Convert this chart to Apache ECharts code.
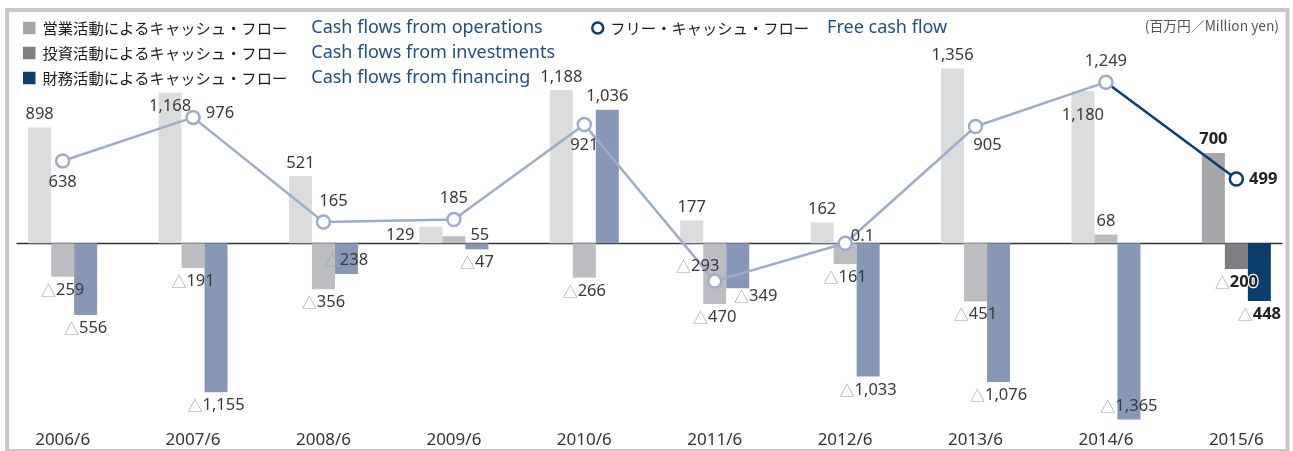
<!DOCTYPE html>
<html>
<head>
<meta charset="utf-8">
<script src="https://cdn.jsdelivr.net/npm/echarts@6/dist/echarts.min.js"></script>
<style>
  html, body { margin: 0; padding: 0; background: #fff; }
  #chart { width: 1293px; height: 451px; }
</style>
</head>
<body>
<div id="chart"></div>
<script>
// fiscal years (June year-end)
const years = ['2006/6', '2007/6', '2008/6', '2009/6', '2010/6', '2011/6', '2012/6', '2013/6', '2014/6', '2015/6'];

// million yen, △ = negative
const opsValues = [898, 1168, 521, 129, 1188, 177, 162, 1356, 1180, 700];
const invValues = [-259, -191, -356, 55, -266, -470, -161, -451, 68, -200];
const finValues = [-556, -1155, -238, -47, 1036, -349, -1033, -1076, -1365, -448];
const fcfValues = [638, 976, 165, 185, 921, -293, 0.1, 905, 1249, 499];

const seriesNames = ['営業活動によるキャッシュ・フロー', '投資活動によるキャッシュ・フロー', '財務活動によるキャッシュ・フロー', 'フリー・キャッシュ・フロー'];
const seriesNamesEn = ['Cash flows from operations', 'Cash flows from investments', 'Cash flows from financing', 'Free cash flow'];

const lightColors = ['#dbdcde', '#bcbdc1', '#8798b6', '#9dadc9'];
const latestColors = ['#a6a7ab', '#7e7f83', '#0b3e6c', '#0b3e6c'];

// label placement tweaks (by year index)
const opsLabelTweaks = { 1: { position: 'insideTop' }, 3: { position: 'left' }, 8: { position: 'insideTop', offset: [0, 11] } };
const invLabelTweaks = { 3: { position: 'right', offset: [0, -4] } };
const finLabelTweaks = { 2: { position: 'insideBottom' }, 5: { offset: [18, -5] }, 8: { position: 'insideBottom' } };
const fcfLabelTweaks = [
  { position: 'bottom' }, { position: 'right', offset: [0, -4] }, { position: 'top', offset: [10, 0] },
  { position: 'top' }, { position: 'bottom' }, { position: 'top', offset: [-17, 6] },
  { position: 'right', offset: [-7, -7] }, { position: 'bottom', offset: [12, -2] },
  { position: 'top' }, { position: 'right' }
];

const lastIdx = years.length - 1;

let labelText = (v, bold, halo) => {
  let s = Math.abs(v).toLocaleString('en-US');
  let key = halo ? 'nw' : (bold ? 'nb' : 'n');
  return (v < 0 ? '{t|△}' : '') + '{' + key + '|' + s + '}';
};

let richStyles = {
  t: { color: '#a0a0a0', fontSize: 15, fontFamily: 'Noto Sans CJK JP' },
  n: { color: '#3a3a3a', fontSize: 16.5 },
  nb: { color: '#222', fontSize: 16.5, fontWeight: 'bold' },
  nw: { color: '#222', fontSize: 16.5, fontWeight: 'bold', textBorderColor: '#fff', textBorderWidth: 2.5 }
};

let barSeries = (idx, values, tweaks) => ({
  name: seriesNames[idx],
  type: 'bar',
  barWidth: 23,
  barGap: 0,
  itemStyle: { color: latestColors[idx] },
  label: {
    show: true,
    distance: 5,
    formatter: p => labelText(p.value[1], p.dataIndex === lastIdx, idx === 1 && p.dataIndex === lastIdx),
    rich: richStyles
  },
  data: values.map((v, i) => ({
    value: [i, v],
    itemStyle: i === lastIdx ? undefined : { color: lightColors[idx] },
    label: Object.assign({ position: v >= 0 ? 'top' : 'bottom' }, tweaks[i] || {})
  }))
});

let lineBase = (color, z) => ({
  name: seriesNames[3],
  type: 'line',
  z: z,
  symbol: 'circle',
  symbolSize: 13,
  itemStyle: { color: '#fff', borderColor: color, borderWidth: 2.5 },
  lineStyle: { color: color, width: 2.5 },
  emphasis: { disabled: true }
});

let fcfMain = Object.assign(lineBase(lightColors[3], 4), {
  label: { show: true, distance: 5, formatter: p => labelText(p.value[1], false, false), rich: richStyles },
  data: fcfValues.slice(0, lastIdx).map((v, i) => ({ value: [i, v], label: fcfLabelTweaks[i] }))
});

let fcfLast = Object.assign(lineBase(latestColors[3], 3), {
  label: { show: true, distance: 5, formatter: p => labelText(p.value[1], true, false), rich: richStyles },
  data: [
    { value: [lastIdx - 1, fcfValues[lastIdx - 1]], symbolSize: 0, label: { show: false } },
    { value: [lastIdx, fcfValues[lastIdx]], label: fcfLabelTweaks[lastIdx] }
  ]
});

let legendText = (name) => '{jp|' + name + '}{en|' + seriesNamesEn[seriesNames.indexOf(name)] + '}';
let legendRich = (gap) => ({
  lineHeight: 20,
  rich: {
    jp: { fontSize: 15.3, color: '#1a1a1a', fontFamily: 'Noto Sans CJK JP', lineHeight: 20, padding: [0, 0, 0, 2] },
    en: { fontSize: 18, color: '#1f4e80', fontFamily: 'Noto Sans', lineHeight: 20, padding: [0, 0, 0, gap] }
  }
});

let options = {
  animation: false,
  textStyle: { fontFamily: '"Noto Sans", "Noto Sans CJK JP", sans-serif' },
  title: {
    text: '(百万円／Million yen)',
    right: 14,
    top: 19,
    padding: 0,
    textStyle: { fontSize: 13.8, fontWeight: 'normal', color: '#555', fontFamily: '"Noto Sans CJK JP"' }
  },
  legend: [
    {
      data: seriesNames.slice(0, 3),
      orient: 'vertical',
      left: 23,
      top: 18,
      padding: 0,
      icon: 'rect',
      itemWidth: 12.5,
      itemHeight: 12.5,
      itemGap: 5,
      selectedMode: false,
      formatter: legendText,
      textStyle: legendRich(24)
    },
    {
      data: [{ name: seriesNames[3], icon: 'circle', itemStyle: { color: '#fff', borderColor: latestColors[3], borderWidth: 2.5 } }],
      left: 591,
      top: 18,
      padding: 0,
      itemWidth: 11,
      itemHeight: 11,
      selectedMode: false,
      formatter: legendText,
      textStyle: legendRich(18)
    }
  ],
  grid: { left: 17, right: 11, top: 24, bottom: 27.1 },
  xAxis: [
    {
      type: 'value',
      min: -0.35,
      max: 9.35,
      axisLine: { show: true, onZero: true, lineStyle: { color: '#333', width: 1.3 } },
      axisTick: { show: false },
      axisLabel: { show: false },
      splitLine: { show: false }
    },
    {
      type: 'value',
      position: 'bottom',
      min: -0.35,
      max: 9.35,
      axisLine: { show: false, onZero: false },
      axisTick: { show: false },
      splitLine: { show: false },
      axisLabel: {
        customValues: years.map((y, i) => i),
        formatter: v => years[Math.round(v)],
        margin: 8,
        fontSize: 17,
        color: '#333'
      }
    }
  ],
  yAxis: { type: 'value', min: -1400, max: 1700, show: false, splitLine: { show: false } },
  graphic: [{
    type: 'rect',
    silent: true,
    shape: { x: 7, y: 10, width: 1280.5, height: 441 },
    style: { fill: 'none', stroke: '#c8c8ca', lineWidth: 4 }
  }],
  series: [
    barSeries(0, opsValues, opsLabelTweaks),
    barSeries(1, invValues, invLabelTweaks),
    barSeries(2, finValues, finLabelTweaks),
    fcfMain,
    fcfLast
  ]
};

let chart = echarts.init(document.getElementById('chart'));
chart.setOption(options);
</script>
</body>
</html>
